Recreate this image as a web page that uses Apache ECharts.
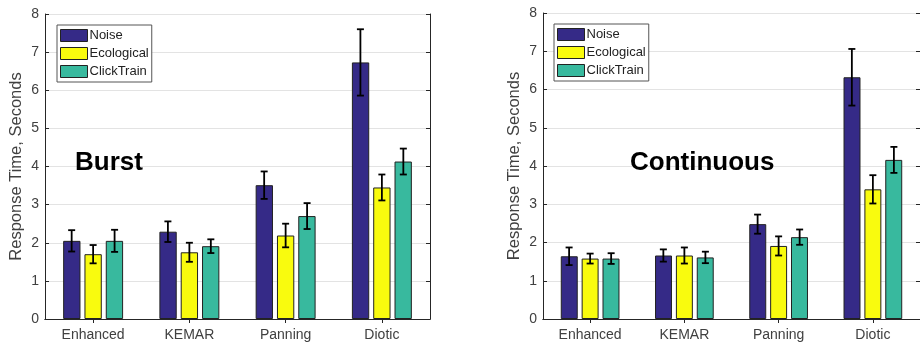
<!DOCTYPE html>
<html>
<head>
<meta charset="utf-8">
<script src="https://cdn.jsdelivr.net/npm/echarts@6/dist/echarts.min.js"></script>
<style>html,body{margin:0;padding:0;background:#fff;}#c{width:920px;height:345px;}</style>
</head>
<body>
<div id="c"></div>
<script>
const categories = ['Enhanced', 'KEMAR', 'Panning', 'Diotic'];
const seriesNames = ['Noise', 'Ecological', 'ClickTrain'];
const yTicks = [0, 1, 2, 3, 4, 5, 6, 7, 8];

// Burst
const burstNoise = [2.05, 2.29, 3.51, 6.73];
const burstNoiseErr = [0.28, 0.27, 0.36, 0.87];
const burstEco = [1.70, 1.75, 2.19, 3.45];
const burstEcoErr = [0.24, 0.25, 0.31, 0.34];
const burstClick = [2.05, 1.91, 2.70, 4.13];
const burstClickErr = [0.29, 0.18, 0.34, 0.34];

// Continuous
const contNoise = [1.64, 1.66, 2.48, 6.32];
const contNoiseErr = [0.23, 0.16, 0.25, 0.74];
const contEco = [1.58, 1.66, 1.91, 3.39];
const contEcoErr = [0.13, 0.21, 0.25, 0.37];
const contClick = [1.58, 1.61, 2.14, 4.16];
const contClickErr = [0.14, 0.15, 0.20, 0.34];

const colors = ['#352a87', '#f9fb0e', '#38b99e'];
const FONT = 'Liberation Sans, Arial, Helvetica, sans-serif';
const AX = '#262626';
const LBL = '#404040';

const BAR_W = 0.18;   // fraction of band
const OFFSET = 0.223; // fraction of band between bar centers

const chart = echarts.init(document.getElementById('c'));

function grids() {
  return [
    {left: 45, top: 14, width: 385, height: 305},
    {left: 543, top: 13, width: 388, height: 306}
  ];
}

function xAxes(gi) {
  return [
    {
      type: 'category', gridIndex: gi, data: categories, position: 'bottom',
      axisLine: {show: true, lineStyle: {color: AX, width: 1}},
      axisTick: {show: true, inside: true, alignWithLabel: true, length: 4, lineStyle: {color: AX}},
      axisLabel: {color: LBL, fontSize: 14, fontFamily: FONT, margin: 9},
      splitLine: {show: false}
    },
    {
      type: 'category', gridIndex: gi, data: categories, position: 'top',
      axisLine: {show: true, lineStyle: {color: AX, width: 1}},
      axisTick: {show: true, inside: true, alignWithLabel: true, length: 4, lineStyle: {color: AX}},
      axisLabel: {show: false},
      splitLine: {show: false}
    }
  ];
}

function yAxes(gi) {
  return [
    {
      type: 'value', gridIndex: gi, position: 'left', min: yTicks[0], max: yTicks[yTicks.length - 1], interval: 1,
      name: 'Response Time, Seconds', nameLocation: 'middle', nameGap: 20, nameRotate: 90,
      nameTextStyle: {color: LBL, fontSize: 16.5, fontFamily: FONT},
      axisLine: {show: true, lineStyle: {color: AX, width: 1}},
      axisTick: {show: true, inside: true, length: 4, lineStyle: {color: AX}},
      axisLabel: {color: LBL, fontSize: 14, fontFamily: FONT, margin: 6},
      splitLine: {show: true, lineStyle: {color: '#e3e3e3', width: 1}}
    },
    {
      type: 'value', gridIndex: gi, position: 'right', min: yTicks[0], max: yTicks[yTicks.length - 1], interval: 1,
      axisLine: {show: true, lineStyle: {color: AX, width: 1}},
      axisTick: {show: true, inside: true, length: 4, lineStyle: {color: AX}},
      axisLabel: {show: false},
      splitLine: {show: false}
    }
  ];
}

function barSeries(name, data, idx, xi, yi) {
  return {
    type: 'bar', name: name, data: data, xAxisIndex: xi, yAxisIndex: yi,
    barWidth: (BAR_W * 100) + '%', barGap: '23%',
    itemStyle: {color: colors[idx], borderColor: '#222', borderWidth: 1},
    z: 2
  };
}

function errSeries(vals, errs, idx, xi, yi) {
  const off = (idx - 1) * OFFSET;
  return {
    type: 'custom', xAxisIndex: xi, yAxisIndex: yi, z: 5,
    data: vals.map((v, i) => [i, v, errs[i]]),
    encode: {x: 0, y: 1},
    renderItem: function (params, api) {
      const i = api.value(0), v = api.value(1), e = api.value(2);
      const band = api.size([1, 0])[0];
      const hi = api.coord([i, v + e]);
      const lo = api.coord([i, v - e]);
      const x = hi[0] + off * band;
      const cap = 3.5;
      const st = {stroke: '#000', lineWidth: 1.8};
      return {
        type: 'group',
        children: [
          {type: 'line', shape: {x1: x, y1: hi[1], x2: x, y2: lo[1]}, style: st},
          {type: 'line', shape: {x1: x - cap, y1: hi[1], x2: x + cap, y2: hi[1]}, style: st},
          {type: 'line', shape: {x1: x - cap, y1: lo[1], x2: x + cap, y2: lo[1]}, style: st}
        ]
      };
    }
  };
}

function legend(left, top) {
  return {
    left: left, top: top, orient: 'vertical',
    data: seriesNames,
    itemWidth: 27, itemHeight: 12, itemGap: 5,
    padding: [4, 3, 4, 3],
    backgroundColor: '#fff', borderColor: '#555', borderWidth: 1,
    selectedMode: false, icon: 'rect',
    itemStyle: {borderColor: '#222', borderWidth: 1},
    textStyle: {color: '#222', fontSize: 13, fontFamily: FONT, padding: [0, 0, 0, -3]}
  };
}

const option = {
  animation: false,
  backgroundColor: '#fff',
  title: [
    {text: 'Burst', left: 70, top: 145, textStyle: {fontSize: 26, fontWeight: 'bold', color: '#000', fontFamily: FONT}},
    {text: 'Continuous', left: 625, top: 145, textStyle: {fontSize: 26, fontWeight: 'bold', color: '#000', fontFamily: FONT}}
  ],
  legend: [legend(57, 25), legend(554, 24)],
  grid: grids(),
  xAxis: [...xAxes(0), ...xAxes(1)],
  yAxis: [...yAxes(0), ...yAxes(1)],
  series: [
    barSeries('Noise', burstNoise, 0, 0, 0),
    barSeries('Ecological', burstEco, 1, 0, 0),
    barSeries('ClickTrain', burstClick, 2, 0, 0),
    errSeries(burstNoise, burstNoiseErr, 0, 0, 0),
    errSeries(burstEco, burstEcoErr, 1, 0, 0),
    errSeries(burstClick, burstClickErr, 2, 0, 0),
    barSeries('Noise', contNoise, 0, 2, 2),
    barSeries('Ecological', contEco, 1, 2, 2),
    barSeries('ClickTrain', contClick, 2, 2, 2),
    errSeries(contNoise, contNoiseErr, 0, 2, 2),
    errSeries(contEco, contEcoErr, 1, 2, 2),
    errSeries(contClick, contClickErr, 2, 2, 2)
  ]
};
chart.setOption(option);
</script>
</body>
</html>
